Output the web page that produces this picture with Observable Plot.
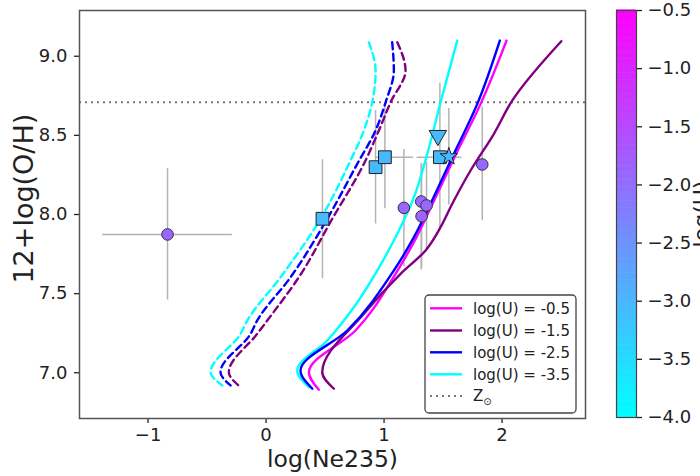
<!DOCTYPE html>
<html>
<head>
<meta charset="utf-8">
<script src="https://cdn.jsdelivr.net/npm/d3@7"></script>
<script src="https://cdn.jsdelivr.net/npm/@observablehq/plot@0.6"></script>
<style>
  html, body { margin: 0; padding: 0; background: #fff; overflow: hidden; }
  #wrap { position: relative; width: 700px; height: 476px; overflow: hidden; font-family: "DejaVu Sans", sans-serif; }
  #wrap > * { position: absolute; top: 0; }
</style>
</head>
<body>
<div id="wrap"></div>
<script>
// ---------- data ----------
const xTicks = [-1, 0, 1, 2];
const yTicks = [7.0, 7.5, 8.0, 8.5, 9.0];
const cbTicks = [-4.0, -3.5, -3.0, -2.5, -2.0, -1.5, -1.0, -0.5];
const solarOH = 8.71;

// model grids (solid)
const mMagentaX = [2.038, 1.818, 1.597, 1.411, 1.275, 1.114, 0.758, 0.363, 0.447];
const mMagentaY = [9.099, 8.699, 8.362, 8.068, 7.857, 7.646, 7.267, 7.004, 6.893];
const mPurpleX = [2.502, 2.086, 1.931, 1.733, 1.578, 1.479, 1.352, 1.140, 0.829, 0.476, 0.575];
const mPurpleY = [9.095, 8.720, 8.510, 8.278, 8.068, 7.920, 7.773, 7.625, 7.373, 7.004, 6.899];
const mBlueX = [1.981, 1.790, 1.578, 1.394, 1.253, 1.083, 0.688, 0.292, 0.392];
const mBlueY = [9.099, 8.699, 8.362, 8.068, 7.857, 7.646, 7.267, 7.015, 6.899];
const mCyanX = [1.620, 1.479, 1.366, 1.253, 1.112, 0.942, 0.744, 0.519, 0.264, 0.363];
const mCyanY = [9.099, 8.709, 8.383, 8.109, 7.878, 7.646, 7.414, 7.204, 7.015, 6.909];

// model grids (dashed)
const dCyanX = [0.871, 0.928, 0.900, 0.829, 0.702, 0.462, 0.123, -0.159, -0.216, -0.470, -0.371];
const dCyanY = [9.088, 8.910, 8.709, 8.531, 8.320, 7.973, 7.604, 7.330, 7.246, 7.004, 6.920];
const dBlueX = [1.069, 1.083, 1.013, 0.928, 0.773, 0.519, 0.208, -0.075, -0.131, -0.386, -0.301];
const dBlueY = [9.088, 8.910, 8.709, 8.531, 8.320, 7.973, 7.604, 7.330, 7.246, 7.004, 6.920];
const dPurpleX = [1.112, 1.182, 1.055, 0.956, 0.829, 0.561, 0.278, 0.010, -0.075, -0.315, -0.216];
const dPurpleY = [9.088, 8.910, 8.709, 8.531, 8.320, 7.973, 7.604, 7.330, 7.246, 7.004, 6.909];

// observed objects
const circX  = [-0.835, 1.168, 1.315, 1.360, 1.318, 1.832];
const circY  = [7.874, 8.042, 8.082, 8.057, 7.989, 8.316];
const circY1 = [7.46, 7.67, 7.65, 7.78, 7.66, 7.96];
const circY2 = [8.29, 8.41, 8.32, 8.33, 8.32, 8.68];
const circX1 = [-1.385, null, null, null, null, null];
const circX2 = [-0.285, null, null, null, null, null];
const circU  = [-1.9, -1.9, -1.9, -1.9, -1.9, -1.9];

const sqX  = [0.478, 0.928, 1.007, 1.473];
const sqY  = [7.973, 8.299, 8.362, 8.362];
const sqY1 = [7.594, 7.94, 8.037, 7.90];
const sqY2 = [8.346, 8.657, 8.688, 8.83];
const sqX1 = [null, null, 0.93, 1.28];
const sqX2 = [null, null, 1.25, 1.66];
const sqU  = [-3.05, -3.05, -3.05, -3.05];

const triX = [1.456], triY = [8.499], triU = [-3.05];
const starX = [1.549], starY = [8.366], starY1 = [8.06], starY2 = [8.67], starU = [-3.05];

// ---------- build ----------
const zip = (xs, ys) => xs.map((x, i) => ({x, y: ys[i]}));
const circ = circX.map((x, i) => ({x, y: circY[i], y1: circY1[i], y2: circY2[i], x1: circX1[i], x2: circX2[i], u: circU[i]}));
const sq = sqX.map((x, i) => ({x, y: sqY[i], y1: sqY1[i], y2: sqY2[i], x1: sqX1[i], x2: sqX2[i], u: sqU[i]}));
const tri = triX.map((x, i) => ({x, y: triY[i], u: triU[i]}));
const star = starX.map((x, i) => ({x, y: starY[i], y1: starY1[i], y2: starY2[i], u: starU[i]}));
const allErr = [...circ, ...sq, ...star];

const colorCfg = {type: "linear", domain: [-4, -0.5], range: ["cyan", "magenta"], interpolate: "rgb"};
const FONT = "DejaVu Sans";
const errStyle = {stroke: "#b3b3b3", strokeWidth: 1.5};
const lw = 2.4;
const dash = "7,4.5";
const cv = "monotone-y";

const main = Plot.plot({
  width: 700, height: 476,
  marginLeft: 79, marginRight: 115, marginTop: 10, marginBottom: 58,
  style: {fontFamily: FONT, fontSize: "18px", color: "#222", background: "transparent"},
  x: {domain: [-1.581, 2.707]},
  y: {domain: [6.711, 9.289]},
  color: colorCfg,
  marks: [
    Plot.axisX({ticks: xTicks, tickFormat: d3.format("d"), tickSize: 5, tickPadding: 5, label: null, fontSize: 18, strokeWidth: 1.3}),
    Plot.axisY({ticks: yTicks, tickFormat: d3.format(".1f"), tickSize: 5, tickPadding: 7, label: null, fontSize: 18, strokeWidth: 1.3}),
    Plot.ruleX(allErr.filter(d => d.y1 != null), {x: "x", y1: "y1", y2: "y2", ...errStyle}),
    Plot.ruleY(allErr.filter(d => d.x1 != null), {y: "y", x1: "x1", x2: "x2", ...errStyle}),
    Plot.ruleY([solarOH], {stroke: "#777", strokeWidth: 2, strokeDasharray: "2,4"}),
    Plot.line(zip(dCyanX, dCyanY), {x: "x", y: "y", stroke: "cyan", strokeWidth: lw, strokeDasharray: dash, curve: cv}),
    Plot.line(zip(dBlueX, dBlueY), {x: "x", y: "y", stroke: "blue", strokeWidth: lw, strokeDasharray: dash, curve: cv}),
    Plot.line(zip(dPurpleX, dPurpleY), {x: "x", y: "y", stroke: "purple", strokeWidth: lw, strokeDasharray: dash, curve: cv}),
    Plot.line(zip(mCyanX, mCyanY), {x: "x", y: "y", stroke: "cyan", strokeWidth: lw, curve: cv}),
    Plot.line(zip(mMagentaX, mMagentaY), {x: "x", y: "y", stroke: "magenta", strokeWidth: lw, curve: cv}),
    Plot.line(zip(mPurpleX, mPurpleY), {x: "x", y: "y", stroke: "purple", strokeWidth: lw, curve: cv}),
    Plot.line(zip(mBlueX, mBlueY), {x: "x", y: "y", stroke: "blue", strokeWidth: lw, curve: cv}),
    Plot.dot(circ, {x: "x", y: "y", fill: "u", r: 5.8, stroke: "#333", strokeWidth: 1}),
    Plot.dot(sq, {x: "x", y: "y", fill: "u", r: 7.2, symbol: "square", stroke: "#222", strokeWidth: 1}),
    Plot.dot(tri, {x: "x", y: "y", fill: "u", r: 6.5, symbol: "triangle", rotate: 180, stroke: "#222", strokeWidth: 1}),
    Plot.dot(star, {x: "x", y: "y", fill: "u", r: 5.5, symbol: "star", stroke: "#222", strokeWidth: 1}),
    Plot.frame({stroke: "#555", strokeWidth: 1.5}),
    Plot.text(["log(Ne235)"], {frameAnchor: "bottom", dy: 48, fontSize: 23.5, fill: "#222"}),
    Plot.text(["12+log(O/H)"], {y: [8.1], frameAnchor: "left", textAnchor: "middle", lineAnchor: "middle", dx: -55, rotate: -90, fontSize: 27, fill: "#222"})
  ]
});

// colorbar
const cbStep = 0.02;
const cbBins = d3.range(-4, -0.5, cbStep);
const cbar = Plot.plot({
  width: 120, height: 476,
  marginLeft: 16, marginRight: 84, marginTop: 10, marginBottom: 59,
  style: {fontFamily: FONT, fontSize: "18px", color: "#222", background: "transparent", overflow: "visible"},
  x: {domain: [0, 1], axis: null},
  y: {domain: [-4, -0.5]},
  color: colorCfg,
  marks: [
    Plot.rect(cbBins, {x1: 0, x2: 1, y1: d => d, y2: d => d + cbStep + 0.005, fill: d => d + cbStep / 2}),
    Plot.frame({stroke: "#444", strokeWidth: 1.2}),
    Plot.axisY({anchor: "right", ticks: cbTicks, tickFormat: d3.format(".1f"), tickSize: 5, tickPadding: 6, label: null, fontSize: 18, strokeWidth: 1.3}),
    Plot.text(["log(U)"], {frameAnchor: "right", textAnchor: "middle", lineAnchor: "middle", dx: 65, rotate: -90, fontSize: 22, fill: "#222"})
  ]
});
cbar.style.left = "600px";

const wrap = document.getElementById("wrap");
wrap.appendChild(main);
wrap.appendChild(cbar);

// legend overlay
const leg = d3.create("svg").attr("width", 700).attr("height", 476).style("left", "0px")
  .style("font-family", FONT);
leg.append("rect").attr("x", 425).attr("y", 295).attr("width", 151).attr("height", 118).attr("rx", 4)
  .attr("fill", "rgba(255,255,255,0.85)").attr("stroke", "#444").attr("stroke-width", 1.3);
const legItems = [
  {label: "log(U) = -0.5", color: "magenta"},
  {label: "log(U) = -1.5", color: "purple"},
  {label: "log(U) = -2.5", color: "blue"},
  {label: "log(U) = -3.5", color: "cyan"}
];
const rowY = [308.3, 330.5, 352.3, 374.3, 396];
legItems.forEach((d, i) => {
  leg.append("line").attr("x1", 430).attr("x2", 462).attr("y1", rowY[i]).attr("y2", rowY[i])
    .attr("stroke", d.color).attr("stroke-width", 2.4);
  leg.append("text").attr("x", 473).attr("y", rowY[i]).attr("dy", "0.35em")
    .attr("font-size", 15).attr("fill", "#222").text(d.label);
});
leg.append("line").attr("x1", 430).attr("x2", 462).attr("y1", rowY[4]).attr("y2", rowY[4])
  .attr("stroke", "#777").attr("stroke-width", 2).attr("stroke-dasharray", "2,4");
const zt = leg.append("text").attr("x", 473).attr("y", rowY[4]).attr("dy", "0.35em")
  .attr("font-size", 15).attr("fill", "#222");
zt.append("tspan").text("Z");
zt.append("tspan").attr("font-size", 10).attr("dy", "4").text("⊙");
wrap.appendChild(leg.node());
</script>
</body>
</html>
